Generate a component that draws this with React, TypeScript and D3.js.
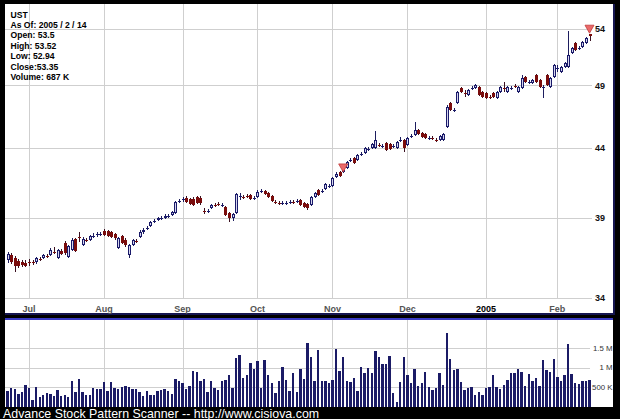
import React from "react";
import * as d3 from "d3";

// ---- Data (UST daily, 2004-06-23 .. 2005-02-14) ----
const openP = [
  36.31, 36.62, 36.43, 36.25, 36.19, 36.12, 36.19, 36.19, 36.19, 36.37,
  36.43, 36.56, 36.62, 36.81, 36.43, 36.88, 37.39, 36.5, 36.94, 37.65,
  37.77, 37.26, 37.58, 37.58, 37.84, 37.9, 37.97, 38.16, 38.16, 38.1,
  37.97, 37.07, 37.84, 37.58, 36.62, 37.26, 37.52, 37.77, 38.1, 38.36,
  38.49, 38.82, 38.89, 39.02, 39.02, 39.16, 39.23, 39.36, 40.18, 40.25,
  40.39, 40.32, 40.32, 40.46, 40.39, 39.5, 39.5, 39.7, 39.91, 39.98,
  39.91, 39.77, 39.36, 39.02, 39.36, 40.53, 40.46, 40.53, 40.6, 40.39,
  40.46, 40.88, 40.88, 40.74, 40.53, 40.11, 40.05, 40.05, 40.04, 40.11,
  40.12, 40.18, 40.25, 40.05, 39.98, 39.91, 40.46, 40.95, 40.88, 41.02,
  41.23, 41.23, 41.88, 42.24, 42.24, 42.53, 43.12, 43.27, 43.12, 43.56,
  43.64, 43.94, 44.01, 44.01, 44.24, 44.16, 44.39, 44.32, 44.16, 44.01,
  44.62, 44.62, 44.24, 44.93, 45.01, 45.4, 45.17, 45.09, 44.77, 44.78,
  44.62, 44.62, 44.62, 45.63, 47.56, 46.98, 47.56, 48.8, 48.38, 48.21,
  48.8, 48.8, 48.88, 48.46, 48.38, 48.05, 48.38, 47.97, 48.46, 48.8,
  48.46, 48.8, 48.97, 48.46, 48.8, 49.73, 49.3, 49.22, 49.9, 49.47,
  48.88, 49.9, 48.88, 49.73, 50.5, 50.16, 50.59, 50.59, 51.82, 52.72,
  52.27, 52.36, 52.72, 53.5,
];
const highP = [
  36.81, 36.75, 36.56, 36.37, 36.31, 36.31, 36.37, 36.31, 36.5, 36.5,
  36.69, 36.69, 37.07, 37.13, 37.01, 37.01, 37.52, 37.26, 37.71, 37.71,
  38.1, 37.77, 37.71, 37.9, 38.03, 38.1, 38.1, 38.3, 38.23, 38.16,
  38.03, 37.77, 37.9, 37.71, 37.33, 37.65, 37.65, 38.23, 38.36, 38.49,
  38.82, 38.96, 39.09, 39.16, 39.3, 39.3, 39.5, 40.18, 40.32, 40.46,
  40.53, 40.39, 40.46, 40.53, 40.53, 39.7, 39.63, 39.98, 40.05, 40.11,
  40.05, 39.84, 39.43, 39.36, 40.74, 40.74, 40.6, 40.67, 40.67, 40.53,
  40.95, 41.02, 40.95, 40.81, 40.6, 40.25, 40.18, 40.18, 40.18, 40.25,
  40.25, 40.32, 40.32, 40.11, 40.05, 40.53, 40.81, 41.02, 41.02, 41.45,
  41.37, 41.88, 42.24, 42.31, 42.53, 43.04, 43.27, 43.34, 43.56, 43.71,
  44.09, 44.09, 44.39, 45.32, 44.39, 44.32, 44.47, 44.39, 44.32, 44.54,
  44.85, 44.7, 44.85, 45.09, 46.02, 45.48, 45.24, 45.17, 44.93, 44.93,
  44.77, 45.01, 45.17, 47.39, 47.64, 47.15, 48.54, 48.88, 48.63, 48.71,
  48.97, 49.13, 48.97, 48.54, 48.46, 48.21, 48.46, 48.54, 48.97, 49.3,
  48.97, 48.97, 49.13, 48.97, 49.9, 49.82, 49.47, 49.56, 49.99, 49.56,
  49.05, 49.99, 49.73, 50.85, 50.76, 50.67, 51.03, 53.82, 52.36, 52.81,
  52.45, 52.9, 53.26, 53.52,
];
const lowP = [
  36.12, 36.06, 35.57, 35.82, 35.88, 35.88, 35.94, 36.0, 36.06, 36.25,
  36.37, 36.43, 36.56, 36.69, 36.37, 36.62, 36.62, 36.43, 36.88, 36.81,
  37.45, 37.2, 37.45, 37.52, 37.71, 37.77, 37.84, 37.84, 37.77, 37.71,
  37.58, 37.01, 37.33, 37.13, 36.43, 37.2, 37.39, 37.71, 37.97, 38.23,
  38.43, 38.69, 38.82, 38.89, 38.96, 39.02, 39.16, 39.3, 40.05, 40.11,
  40.05, 39.91, 39.84, 39.98, 39.91, 39.3, 39.36, 39.63, 39.77, 39.84,
  39.77, 39.16, 38.76, 38.82, 39.3, 40.25, 40.32, 40.39, 40.25, 40.25,
  40.39, 40.74, 40.6, 40.39, 40.11, 39.98, 39.91, 39.91, 39.91, 39.98,
  39.98, 40.05, 39.84, 39.7, 39.57, 39.84, 40.39, 40.53, 40.74, 40.95,
  41.09, 41.16, 41.8, 41.88, 42.16, 42.46, 42.97, 42.82, 43.04, 43.42,
  43.56, 43.79, 43.94, 43.94, 44.09, 44.01, 43.79, 43.86, 44.01, 43.94,
  44.47, 43.71, 44.16, 44.77, 44.93, 45.01, 44.77, 44.7, 44.62, 44.62,
  44.47, 44.54, 44.54, 45.56, 46.9, 46.82, 47.47, 48.38, 48.05, 48.13,
  48.63, 48.71, 48.13, 47.97, 47.88, 47.88, 47.97, 47.88, 48.38, 48.46,
  48.38, 48.63, 48.8, 48.38, 48.71, 49.22, 49.13, 49.13, 49.22, 48.8,
  47.97, 48.97, 48.8, 49.64, 50.16, 50.07, 50.5, 50.5, 51.73, 52.0,
  52.09, 52.27, 52.63, 52.94,
];
const closeP = [
  36.68, 36.19, 35.94, 35.94, 36.0, 35.94, 36.16, 36.18, 36.43, 36.36,
  36.62, 36.55, 36.94, 36.8, 36.94, 36.69, 36.75, 37.2, 37.58, 36.88,
  37.71, 37.65, 37.57, 37.84, 37.85, 37.97, 37.98, 37.9, 37.84, 37.77,
  37.71, 37.71, 37.39, 37.26, 37.26, 37.58, 37.51, 38.1, 38.23, 38.37,
  38.76, 38.83, 39.02, 39.03, 39.16, 39.17, 39.43, 40.11, 40.19, 40.32,
  40.11, 39.98, 39.91, 40.05, 40.05, 39.49, 39.51, 39.91, 39.9, 39.97,
  39.92, 39.23, 39.02, 39.3, 40.67, 40.54, 40.45, 40.52, 40.32, 40.4,
  40.81, 40.89, 40.67, 40.46, 40.18, 40.1, 40.04, 40.06, 40.05, 40.12,
  40.11, 40.19, 39.91, 39.77, 39.7, 40.46, 40.74, 40.6, 40.89, 41.37,
  41.24, 41.8, 42.09, 41.95, 42.38, 42.97, 43.13, 42.9, 43.49, 43.57,
  44.01, 43.95, 44.32, 44.62, 44.23, 44.17, 43.86, 43.94, 44.17, 44.47,
  44.63, 44.01, 44.77, 44.94, 45.4, 45.09, 44.85, 44.77, 44.78, 44.77,
  44.61, 44.93, 45.09, 47.23, 46.98, 46.99, 48.46, 48.46, 48.37, 48.63,
  48.81, 49.05, 48.21, 48.05, 47.97, 48.04, 48.05, 48.46, 48.88, 48.79,
  48.88, 48.81, 48.96, 48.88, 49.64, 49.3, 49.31, 49.47, 49.3, 48.88,
  48.89, 49.05, 49.64, 50.76, 50.51, 50.59, 50.94, 51.64, 52.27, 52.09,
  52.28, 52.81, 53.17, 53.35,
];
// volume in thousands of shares
const volumeK = [
  398, 466, 440, 322, 364, 542, 466, 169, 491, 254,
  288, 339, 313, 271, 415, 271, 296, 254, 652, 373,
  695, 364, 296, 305, 466, 449, 449, 618, 398, 618,
  466, 449, 491, 534, 491, 449, 449, 373, 271, 390,
  296, 296, 398, 424, 440, 398, 313, 695, 661, 610,
  440, 525, 906, 889, 652, 695, 381, 644, 466, 424,
  644, 678, 805, 466, 1245, 1330, 720, 796, 1127, 974,
  1160, 466, 1203, 805, 610, 339, 652, 1016, 678, 407,
  847, 364, 949, 711, 1635, 1271, 652, 1440,
  661, 661, 593, 678, 1465, 906, 1271, 652, 635, 720,
  398, 1016, 847, 999, 847, 1431, 1271, 1101, 1084, 1288,
  339, 127, 618, 1271, 805, 610, 949, 525, 610, 881,
  491, 424, 483, 855, 542, 1889, 1228, 932, 974, 635,
  424, 483, 500, 305, 381, 296, 466, 508, 796, 508,
  457, 559, 678, 847, 847, 966, 889, 525, 830, 652,
  728, 525, 1186, 932, 881, 1228, 745, 652, 805, 1609,
  822, 610, 576, 661, 661, 687,
];
const monthLabels = ["Jul", "Aug", "Sep", "Oct", "Nov", "Dec", "2005", "Feb"];
const monthStartIdx = [6, 27, 49, 70, 91, 112, 134, 154];
const priceTicks = [34, 39, 44, 49, 54];
const volTicksK = [500, 1000, 1500];
const volTickLabels = ["500 K", "1 M", "1.5 M"];
const infoLines = [
  "UST",
  "As Of: 2005 / 2 / 14",
  "Open: 53.5",
  "High: 53.52",
  "Low: 52.94",
  "Close:53.35",
  "Volume: 687 K",
];
// pattern signals: bar index and the price the marker tip points at
const signalIdx = [94, 163];
const signalTipPrice = [42.16, 53.52];

const FONT = "'Liberation Sans', Arial, Helvetica, sans-serif";

export default function App() {
  const W = 620;
  const H = 419;
  const n = closeP.length;
  const x = d3.scaleLinear().domain([0, n - 1]).range([7.6, 589.5]);
  const y = d3.scaleLog().domain([34, 54]).range([298, 29]);
  const yv = d3.scaleLinear().domain([0, 1500]).range([406.7, 347.9]);

  const panelL = 5;
  const panelR = 613;
  const gridR = 592;
  const pTop = 4;
  const pBot = 313;
  const vTop = 320;
  const vBot = 407;

  const idx = d3.range(n);

  return (
    <svg
      width={W}
      height={H}
      viewBox={`0 0 ${W} ${H}`}
      style={{ position: "absolute", left: 0, top: 0, display: "block" }}
      fontFamily={FONT}
    >
      <rect x={0} y={0} width={W} height={H} fill="#000" />
      {/* price panel */}
      <rect x={panelL} y={pTop} width={panelR - panelL} height={pBot - pTop} fill="#fff" />
      <rect x={panelR} y={pTop} width={2} height={pBot - pTop + 2} fill="#15154f" />
      <rect x={panelL} y={pBot} width={panelR - panelL + 2} height={2} fill="#15154f" />
      {/* volume panel */}
      <rect x={panelL} y={vTop} width={panelR - panelL} height={vBot - vTop} fill="#fff" />
      <rect x={panelL} y={vTop - 2} width={panelR - panelL} height={2} fill="#3b3bc4" />

      {/* grid: price */}
      {priceTicks.map((t) => (
        <line
          key={"hp" + t}
          x1={panelL}
          x2={gridR}
          y1={Math.round(y(t)) + 0.5}
          y2={Math.round(y(t)) + 0.5}
          stroke="#cfcfcf"
        />
      ))}
      {monthStartIdx.map((m, k) => (
        <line
          key={"vp" + k}
          x1={Math.round(x(m)) + 0.5}
          x2={Math.round(x(m)) + 0.5}
          y1={pTop}
          y2={Math.round(y(34))}
          stroke="#cfcfcf"
        />
      ))}
      {/* grid: volume */}
      {volTicksK.map((t) => (
        <line
          key={"hv" + t}
          x1={panelL}
          x2={590}
          y1={Math.round(yv(t)) + 0.5}
          y2={Math.round(yv(t)) + 0.5}
          stroke="#cfcfcf"
        />
      ))}
      {monthStartIdx.map((m, k) => (
        <line
          key={"vv" + k}
          x1={Math.round(x(m)) + 0.5}
          x2={Math.round(x(m)) + 0.5}
          y1={vTop}
          y2={vBot}
          stroke="#cfcfcf"
        />
      ))}

      {/* info text */}
      {infoLines.map((s, k) => (
        <text key={"info" + k} x={10.5} y={17.5 + k * 10.4} fontSize={8.6} fontWeight="bold" fill="#000">
          {s}
        </text>
      ))}

      {/* price axis labels */}
      {priceTicks.map((t) => (
        <text key={"pl" + t} x={595} y={y(t)} dy="0.35em" fontSize={9} fontWeight="bold" fill="#111">
          {t}
        </text>
      ))}
      {/* month labels */}
      {monthStartIdx.map((m, k) => (
        <text
          key={"ml" + k}
          x={x(m)}
          y={312}
          textAnchor="middle"
          fontSize={9}
          fontWeight="bold"
          fill={monthLabels[k] === "2005" ? "#000" : "#555"}
        >
          {monthLabels[k]}
        </text>
      ))}

      {/* candles */}
      <g shapeRendering="crispEdges">
        {idx.map((i) => {
          const cx = Math.round(x(i));
          const o = openP[i];
          const c = closeP[i];
          const up = c >= o;
          const yTop = Math.round(y(Math.max(o, c)));
          const yBot = Math.round(y(Math.min(o, c)));
          const hgt = Math.max(1, yBot - yTop);
          return (
            <g key={"c" + i}>
              <rect
                x={cx}
                y={Math.round(y(highP[i]))}
                width={1}
                height={Math.max(1, Math.round(y(lowP[i])) - Math.round(y(highP[i])))}
                fill={up ? "#1d1d5e" : "#3a1020"}
              />
              <rect x={cx - 1} y={yTop} width={3} height={hgt} fill={up ? "#1a1a6a" : "#7a0c0c"} />
              {up && hgt > 2 && (
                <rect x={cx} y={yTop + 1} width={1} height={hgt - 2} fill="#d6d6ee" />
              )}
            </g>
          );
        })}
      </g>

      {/* signal markers */}
      {signalIdx.map((i, k) => {
        const cx = x(i);
        const tip = y(signalTipPrice[k]) - 1;
        const p = d3.path();
        p.moveTo(cx - 4.5, tip - 8);
        p.lineTo(cx + 4.5, tip - 8);
        p.lineTo(cx, tip);
        p.closePath();
        return <path key={"s" + i} d={p.toString()} fill="#ea6a6a" stroke="#c23a3a" strokeWidth={0.8} />;
      })}

      {/* volume bars */}
      <g shapeRendering="crispEdges">
        {idx.map((i) => (
          <rect
            key={"v" + i}
            x={x(i) - 1.2}
            y={yv(volumeK[i])}
            width={2.4}
            height={vBot - yv(volumeK[i])}
            fill="#1b1b66"
          />
        ))}
      </g>

      {/* volume labels */}
      {volTicksK.map((t, k) => (
        <text key={"vl" + t} x={612.5} y={yv(t)} dy="0.35em" textAnchor="end" fontSize={7.8} fill="#333">
          {volTickLabels[k]}
        </text>
      ))}

      {/* footer */}
      <text x={3} y={417.5} fontSize={12.4} fill="#fff">
        Advance Stock Pattern Scanner -- http://www.cisiova.com
      </text>
    </svg>
  );
}
